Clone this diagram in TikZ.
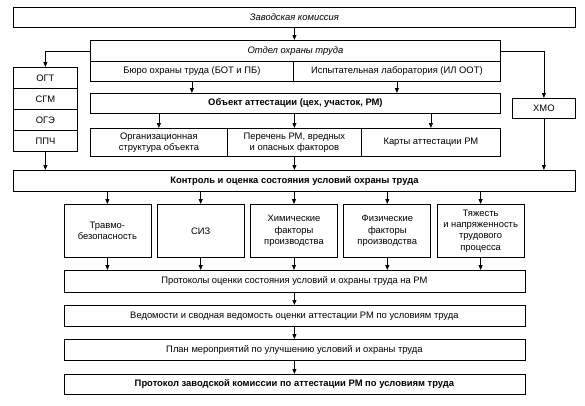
\documentclass[tikz,border=0pt]{standalone}
\usepackage{fontspec}
\setmainfont{Liberation Sans}
\usetikzlibrary{arrows.meta}
\tikzset{
  box/.style={draw, line width=0.8pt, anchor=north west, inner sep=0pt, align=center, font=\fontsize{9.4}{11.3}\selectfont},
  arr/.style={line width=0.8pt, -{Triangle[length=5pt,width=4pt]}}
}
\begin{document}
\begin{tikzpicture}[x=1pt,y=-1pt]
\useasboundingbox (0,0) rectangle (585,405);
\node[box, minimum width=562pt, minimum height=20pt] (zav) at (13,7) {\itshape Заводская комиссия};
\node[box, minimum width=410pt, minimum height=21pt] (otd) at (90,40) {\itshape Отдел охраны труда};
\node[box, minimum width=203pt, minimum height=20pt] (buro) at (90,61) {Бюро охраны труда (БОТ и ПБ)};
\node[box, minimum width=207pt, minimum height=20pt] (isp) at (293,61) {Испытательная лаборатория (ИЛ ООТ)};
\node[box, minimum width=410pt, minimum height=20pt] (obj) at (90,93) {\bfseries Объект аттестации (цех, участок, РМ)};
\node[box, minimum width=137pt, minimum height=28pt] (org) at (90,128) {Организационная\\структура объекта};
\node[box, minimum width=134pt, minimum height=28pt] (per) at (227,128) {Перечень РМ, вредных\\и опасных факторов};
\node[box, minimum width=139pt, minimum height=28pt] (kart) at (361,128) {Карты аттестации РМ};
\node[box, minimum width=64pt, minimum height=21pt] (ogt) at (13,67) {ОГТ};
\node[box, minimum width=64pt, minimum height=21pt] (sgm) at (13,88) {СГМ};
\node[box, minimum width=64pt, minimum height=21pt] (oge) at (13,109) {ОГЭ};
\node[box, minimum width=64pt, minimum height=21pt] (ppch) at (13,130) {ППЧ};
\node[box, minimum width=63pt, minimum height=20pt] (xmo) at (512,98) {ХМО};
\node[box, minimum width=562pt, minimum height=21pt] (kon) at (13,170) {\bfseries Контроль и оценка состояния условий охраны труда};
\node[box, minimum width=87pt, minimum height=53pt] (f1) at (63.5,204) {Травмо-\\безопасность};
\node[box, minimum width=87pt, minimum height=53pt] (f2) at (156.8,204) {СИЗ};
\node[box, minimum width=87pt, minimum height=53pt] (f3) at (250.1,204) {Химические\\факторы\\производства};
\node[box, minimum width=87pt, minimum height=53pt] (f4) at (343.4,204) {Физические\\факторы\\производства};
\node[box, minimum width=87pt, minimum height=53pt] (f5) at (436.7,204) {Тяжесть\\и напряженность\\трудового\\процесса};
\node[box, minimum width=461pt, minimum height=22pt] (prot) at (63.5,270) {Протоколы оценки состояния условий и охраны труда на РМ};
\node[box, minimum width=461pt, minimum height=21pt] (ved) at (63.5,305) {Ведомости и сводная ведомость оценки аттестации РМ по условиям труда};
\node[box, minimum width=461pt, minimum height=21pt] (plan) at (63.5,339) {План мероприятий по улучшению условий и охраны труда};
\node[box, minimum width=461pt, minimum height=20pt] (pzk) at (63.5,374) {\bfseries Протокол заводской комиссии по аттестации РМ по условиям труда};
\draw[arr] (zav.south) -- (zav.south |- otd.north);
\draw[arr] (otd.west) -| (ogt.north);
\draw[arr] (otd.east) -| (xmo.north);
\draw[arr] (buro.south) -- (buro.south |- obj.north);
\draw[arr] (isp.south) -- (isp.south |- obj.north);
\draw[arr] (org.north |- obj.south) -- (org.north);
\draw[arr] (per.north |- obj.south) -- (per.north);
\draw[arr] (kart.north |- obj.south) -- (kart.north);
\draw[arr] (per.south) -- (per.south |- kon.north);
\draw[arr] (ppch.south) -- (ppch.south |- kon.north);
\draw[arr] (xmo.south) -- (xmo.south |- kon.north);
\foreach \f in {f1,f2,f3,f4,f5}{
  \draw[arr] (\f.north |- kon.south) -- (\f.north);
  \draw[arr] (\f.south) -- (\f.south |- prot.north);
}
\draw[arr] (prot.south) -- (prot.south |- ved.north);
\draw[arr] (ved.south) -- (ved.south |- plan.north);
\draw[arr] (plan.south) -- (plan.south |- pzk.north);
\end{tikzpicture}
\end{document}
